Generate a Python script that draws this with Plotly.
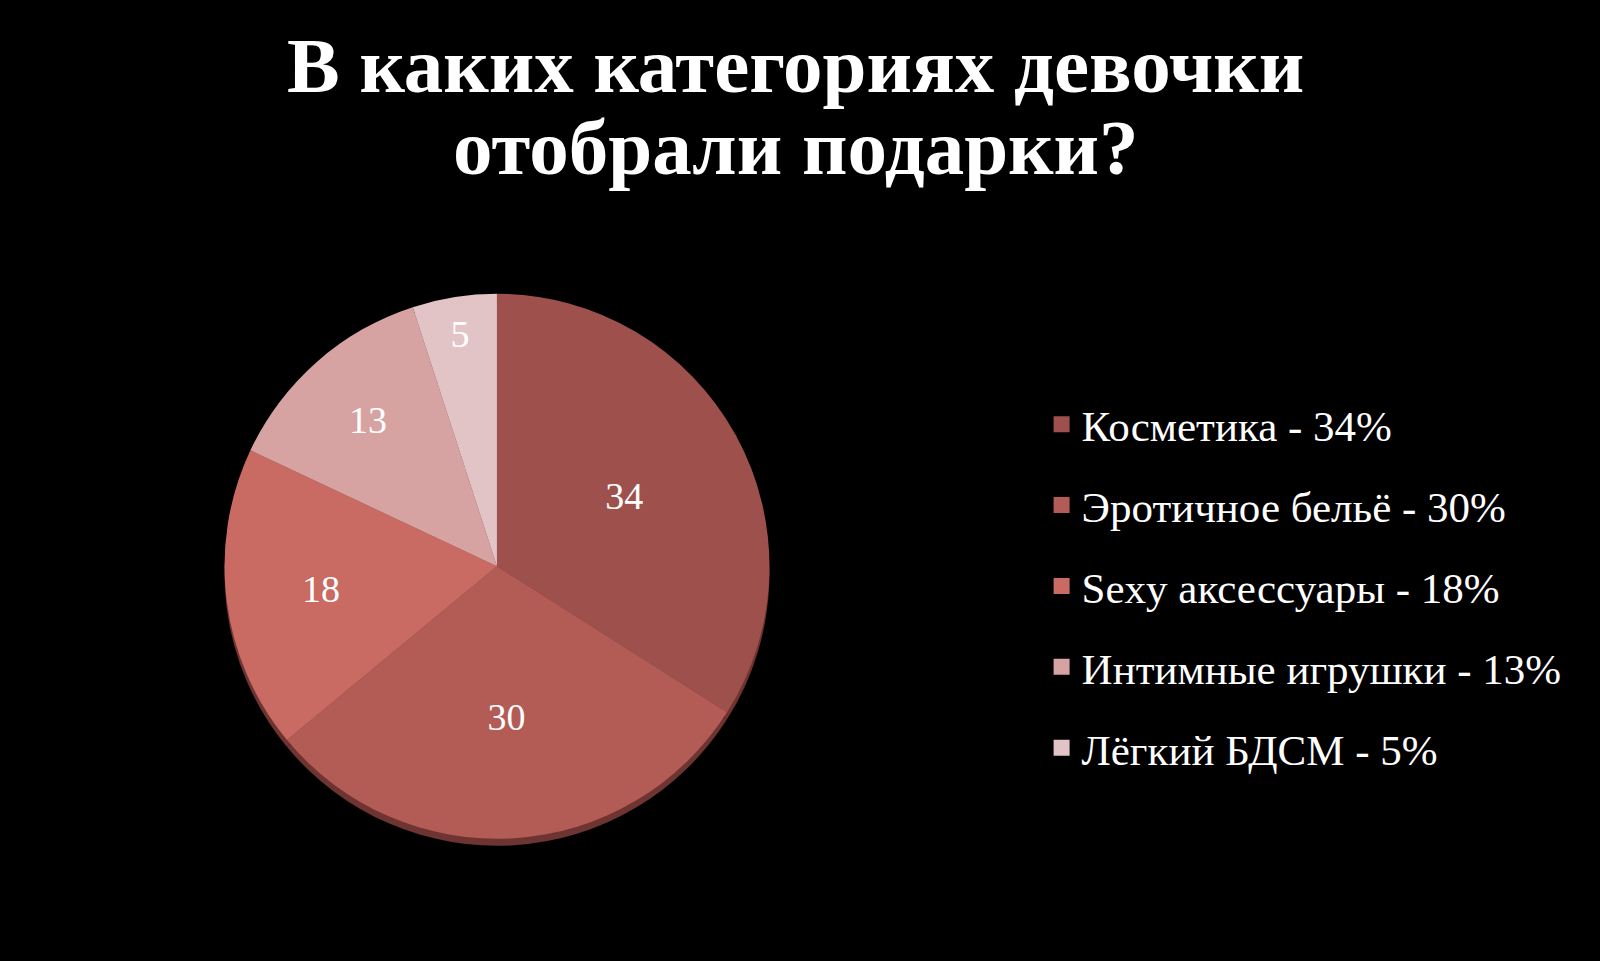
import plotly.graph_objects as go

categories = ["Косметика", "Эротичное бельё", "Sexy аксессуары", "Интимные игрушки", "Лёгкий БДСМ"]
values = [34, 30, 18, 13, 5]
colors = ["#9E504C", "#B35B55", "#C96A63", "#D6A2A2", "#E2C4C6"]
title_lines = ["В каких категориях девочки", "отобрали подарки?"]

SERIF = "Liberation Serif, DejaVu Serif, serif"

fig = go.Figure()

# dark rim under the pie to mimic the slight 3D look
fig.add_trace(
    go.Pie(
        values=values,
        labels=categories,
        sort=False,
        direction="clockwise",
        marker=dict(colors=["#6E3431"] * len(values), line=dict(width=0)),
        textinfo="none",
        hoverinfo="skip",
        showlegend=False,
        domain=dict(x=[0.1403, 0.4809], y=[0.1199, 0.687]),
    )
)

fig.add_trace(
    go.Pie(
        values=values,
        labels=categories,
        sort=False,
        direction="clockwise",
        marker=dict(colors=colors, line=dict(width=0)),
        textinfo="value",
        textposition="inside",
        insidetextorientation="horizontal",
        textfont=dict(family=SERIF, size=38, color="white"),
        showlegend=False,
        domain=dict(x=[0.1403, 0.4809], y=[0.1272, 0.6943]),
    )
)

# legend entries, one group each so the gaps can be set
for name, val, col in zip(categories, values, colors):
    fig.add_trace(
        go.Scatter(
            x=[None],
            y=[None],
            mode="markers",
            name=f"{name} - {val}%",
            legendgroup=name,
            marker=dict(symbol="square", size=18, color=col),
        )
    )

# title as two annotations so the line spacing matches
for txt, ypos in zip(title_lines, [0.932, 0.847]):
    fig.add_annotation(
        text=f"<b>{txt}</b>",
        x=0.4974,
        y=ypos,
        xref="paper",
        yref="paper",
        xanchor="center",
        yanchor="middle",
        showarrow=False,
        font=dict(family=SERIF, size=79, color="white"),
    )

fig.update_layout(
    width=1600,
    height=961,
    paper_bgcolor="#000000",
    plot_bgcolor="#000000",
    margin=dict(l=0, r=0, t=0, b=0),
    xaxis=dict(visible=False),
    yaxis=dict(visible=False),
    legend=dict(
        x=0.651,
        y=0.39,
        xanchor="left",
        yanchor="middle",
        font=dict(family=SERIF, size=43, color="white"),
        tracegroupgap=22,
        itemwidth=30,
        bgcolor="rgba(0,0,0,0)",
    ),
)

fig.write_html(
    "out.html",
    config={"displayModeBar": False},
    post_script="document.body.style.margin='0';document.body.style.background='#000';",
)
